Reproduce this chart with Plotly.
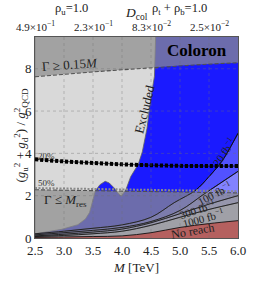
import plotly.graph_objects as go

# ---------------- data ----------------
M_MIN, M_MAX = 2.5, 6.0
Y_MIN, Y_MAX = 0.0, 9.5

x_ticks = [2.5, 3.0, 3.5, 4.0, 4.5, 5.0, 5.5, 6.0]
y_ticks = [0, 2, 4, 6, 8]
top_tick_M = [2.5, 3.5, 4.5, 5.5]
top_tick_labels = ["4.9×10<sup>−1</sup>", "2.3×10<sup>−1</sup>",
                   "8.3×10<sup>−2</sup>", "2.5×10<sup>−2</sup>"]

# excluded-region boundary (from top to bottom-left)
excl_M = [4.58, 4.57, 4.56, 4.50, 4.43, 4.35, 4.28, 4.15, 4.07, 3.99, 3.93,
          3.86, 3.78, 3.71, 3.62, 3.54, 3.50, 3.44, 3.37, 3.24, 2.96, 2.58, 2.50]
excl_y = [9.50, 8.60, 7.65, 6.65, 5.16, 4.07, 3.48, 2.90, 2.30, 1.97, 2.12,
          2.38, 2.60, 2.68, 2.52, 2.22, 1.80, 1.20, 0.90, 0.63, 0.41, 0.23, 0.20]

# width lines
gam_hi_M = [2.5, 3.0, 3.5, 4.0, 4.5, 5.0, 5.5, 6.0]
gam_hi_y = [7.62, 7.75, 7.85, 7.95, 8.05, 8.15, 8.22, 8.28]
gam_lo_M = [2.5, 3.5, 4.5, 5.5, 6.0]
gam_lo_y = [2.28, 2.24, 2.20, 2.15, 2.13]

# branching-ratio lines
br50_M = [2.5, 3.5, 4.5, 5.5, 6.0]
br50_y = [2.36, 2.32, 2.28, 2.23, 2.21]
br20_M = [2.5, 3.0, 3.5, 4.0, 4.5, 5.0, 5.5, 6.0]
br20_y = [3.72, 3.62, 3.55, 3.48, 3.44, 3.41, 3.40, 3.40]

# luminosity reach contours
c20_M = [2.5, 3.0, 3.5, 4.0, 4.5, 4.9, 5.27, 5.5, 5.72, 5.85, 6.0]
c20_y = [0.20, 0.32, 0.46, 0.62, 0.98, 1.67, 2.26, 2.90, 3.62, 4.20, 4.95]
c100_M = [2.5, 3.0, 3.5, 4.0, 4.5, 5.0, 5.4, 5.7, 6.0]
c100_y = [0.15, 0.25, 0.36, 0.50, 0.78, 1.30, 2.05, 2.60, 3.15]
c300_M = [2.5, 3.0, 3.5, 4.0, 4.5, 5.0, 5.5, 6.0]
c300_y = [0.10, 0.18, 0.28, 0.42, 0.72, 1.15, 1.60, 2.00]
c1000_M = [2.5, 3.0, 3.5, 4.0, 4.5, 5.0, 5.5, 6.0]
c1000_y = [0.07, 0.12, 0.20, 0.32, 0.60, 0.98, 1.35, 1.67]
noreach_M = [2.5, 3.0, 3.5, 4.0, 4.5, 5.0, 5.5, 6.0]
noreach_y = [0.03, 0.05, 0.07, 0.10, 0.25, 0.50, 0.68, 0.82]

# ---------------- styles ----------------
BLUE = "#1a1aff"
EXCL = "#d9d9d9"
OVER = "rgba(140,140,140,0.72)"
LUMI_COLORS = ["#5252ff", "#8282ff", "#b0b0ff", "#d2d2ec"]
RED = "#b5605f"
FONT = "Liberation Serif, DejaVu Serif, serif"

fig = go.Figure()

# excluded region
fig.add_trace(go.Scatter(x=excl_M + [M_MIN], y=excl_y + [Y_MAX], fill="toself",
                         fillcolor=EXCL, mode="lines",
                         line=dict(color="#606060", width=0.8), hoverinfo="skip"))

# luminosity regions
for (cm, cy), col in zip([(c20_M, c20_y), (c100_M, c100_y), (c300_M, c300_y),
                          (c1000_M, c1000_y)], LUMI_COLORS):
    fig.add_trace(go.Scatter(x=cm, y=cy, fill="tozeroy", fillcolor=col,
                             mode="lines", line=dict(color="black", width=0.8, shape="spline"),
                             hoverinfo="skip"))

# width overlays
fig.add_trace(go.Scatter(x=gam_hi_M + [M_MAX, M_MIN], y=gam_hi_y + [Y_MAX, Y_MAX],
                         fill="toself", fillcolor=OVER, mode="none", hoverinfo="skip"))
fig.add_trace(go.Scatter(x=gam_lo_M, y=gam_lo_y, fill="tozeroy", fillcolor=OVER,
                         mode="none", hoverinfo="skip"))

# no reach
fig.add_trace(go.Scatter(x=noreach_M, y=noreach_y, fill="tozeroy", fillcolor=RED,
                         mode="lines", line=dict(color="black", width=0.8, shape="spline"),
                         hoverinfo="skip"))

# contour lines redrawn on top of overlay
for cm, cy in [(c20_M, c20_y), (c100_M, c100_y), (c300_M, c300_y), (c1000_M, c1000_y)]:
    fig.add_trace(go.Scatter(x=cm, y=cy, mode="lines",
                             line=dict(color="#111111", width=0.8, shape="spline"),
                             hoverinfo="skip"))

# dashed width lines
fig.add_trace(go.Scatter(x=gam_hi_M, y=gam_hi_y, mode="lines",
                         line=dict(color="#505050", width=1.1, dash="4px,2px"), hoverinfo="skip"))
fig.add_trace(go.Scatter(x=gam_lo_M, y=gam_lo_y, mode="lines",
                         line=dict(color="#505050", width=1.1, dash="4px,2px"), hoverinfo="skip"))

# branching-ratio lines
fig.add_trace(go.Scatter(x=br50_M, y=br50_y, mode="lines",
                         line=dict(color="#8a8a8a", width=2.0, dash="2px,1.5px"), hoverinfo="skip"))
fig.add_trace(go.Scatter(x=br20_M, y=br20_y, mode="lines",
                         line=dict(color="black", width=0.7, shape="spline"), hoverinfo="skip"))
fig.add_trace(go.Scatter(x=br20_M, y=br20_y, mode="lines",
                         line=dict(color="black", width=4.0, dash="3.2px,1.8px", shape="spline"),
                         hoverinfo="skip"))

# grid (dotted, above fills)
shapes = []
for xv in x_ticks[1:-1]:
    shapes.append(dict(type="line", xref="x", yref="y", x0=xv, x1=xv, y0=Y_MIN, y1=Y_MAX,
                       line=dict(color="rgba(110,110,110,0.55)", width=0.7, dash="dot"),
                       layer="above"))
for yv in y_ticks[1:]:
    shapes.append(dict(type="line", xref="x", yref="y", x0=M_MIN, x1=M_MAX, y0=yv, y1=yv,
                       line=dict(color="rgba(110,110,110,0.55)", width=0.7, dash="dot"),
                       layer="above"))

ann = []
def txt(x, y, s, size=13, angle=0, color="#222222", **kw):
    ann.append(dict(x=x, y=y, xref="x", yref="y", text=s, showarrow=False,
                    textangle=angle, font=dict(family=FONT, size=size, color=color), **kw))

txt(3.11, 8.19, "Γ ≥ 0.15<i>M</i>", 13, -4)
txt(3.03, 1.76, "Γ ≤ <i>M</i><sub>res</sub>", 13, 0)
txt(2.70, 3.89, "20%", 9, 0, "#333333")
txt(2.70, 2.58, "50%", 9, 0, "#333333")
txt(4.40, 6.10, "Excluded", 13, -76)
txt(5.30, 8.87, "<b>Coloron</b>", 17, 0, "black")
txt(5.75, 4.07, "20 fb<sup>−1</sup>", 11, -55)
txt(5.60, 2.13, "100 fb<sup>−1</sup>", 11, -28)
txt(5.31, 1.36, "300 fb<sup>−1</sup>", 11, -18)
txt(5.39, 0.95, "1000 fb<sup>−1</sup>", 11, -15)
txt(5.22, 0.32, "No reach", 12, -10)

# top axis labels
for m, lab in zip(top_tick_M, top_tick_labels):
    ann.append(dict(x=m, y=1.057, xref="x", yref="paper", text=lab, showarrow=False,
                    yanchor="middle", font=dict(family=FONT, size=11, color="#222222")))
ann.append(dict(x=0.09, y=1.14, xref="paper", yref="paper", text="ρ<sub>u</sub>=1.0",
                showarrow=False, yanchor="middle", font=dict(family=FONT, size=12.5, color="#222222")))
ann.append(dict(x=0.50, y=1.115, xref="paper", yref="paper", text="<i>D</i><sub>col</sub>",
                showarrow=False, yanchor="middle", font=dict(family=FONT, size=13.5, color="#222222")))
ann.append(dict(x=0.855, y=1.14, xref="paper", yref="paper", text="ρ<sub>t</sub> + ρ<sub>b</sub>=1.0",
                showarrow=False, yanchor="middle", font=dict(family=FONT, size=12.5, color="#222222")))
# y-axis title
ann.append(dict(x=-0.123, y=0.51, xref="paper", yref="paper", textangle=-90, showarrow=False,
                text="(<i>g</i><sub>u</sub><sup>2</sup> + <i>g</i><sub>d</sub><sup>2</sup>) / <i>g</i><sup>2</sup><sub>QCD</sub>",
                font=dict(family=FONT, size=13, color="#222222")))

fig.update_layout(
    width=258, height=285,
    margin=dict(l=35, r=12, t=37, b=38),
    paper_bgcolor="white", plot_bgcolor=BLUE,
    showlegend=False,
    shapes=shapes, annotations=ann,
    font=dict(family=FONT, color="#222222"),
    xaxis=dict(range=[M_MIN, M_MAX], tickvals=x_ticks,
               ticktext=[f"{v:.1f}" for v in x_ticks], showgrid=False, zeroline=False,
               showline=True, linecolor="#555555", linewidth=1, mirror=True,
               ticks="", tickfont=dict(family=FONT, size=13),
               title=dict(text="<i>M</i> [TeV]", font=dict(family=FONT, size=13), standoff=6)),
    yaxis=dict(range=[Y_MIN, Y_MAX], tickvals=y_ticks, showgrid=False, zeroline=False,
               showline=True, linecolor="#555555", linewidth=1, mirror=True,
               ticks="", tickfont=dict(family=FONT, size=13)),
)

fig.write_html("out.html", config={"displayModeBar": False},
               post_script="document.body.style.margin='0';")
